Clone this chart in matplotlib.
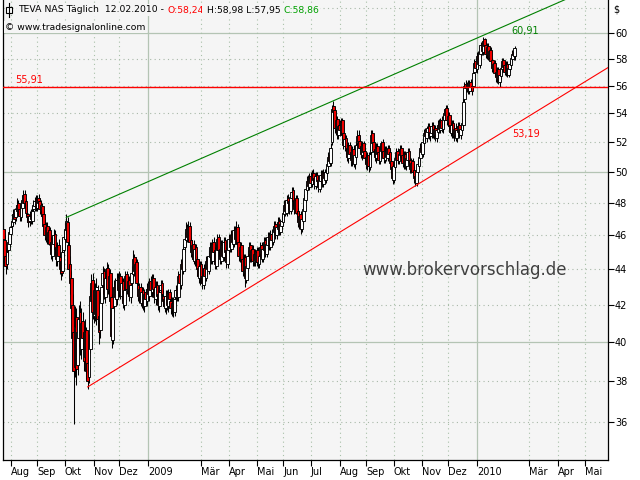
import numpy as np
import pandas as pd
import matplotlib
matplotlib.use("Agg")
import matplotlib.pyplot as plt
from matplotlib.patches import Rectangle
from matplotlib.lines import Line2D
from matplotlib.ticker import FixedLocator, NullLocator, FuncFormatter

# TEVA NAS, daily candles, 24.07.2008 - 12.02.2010 (one value per weekday)
FIRST_DAY = "2008-07-24"

opens = [
    46.4, 45.7, 44.8, 44.3, 45.1, 45.5,
    46.1, 46.6, 46.8, 47.4, 47.1, 47.5, 48.0, 47.6, 47.1, 47.7, 48.0, 48.6, 48.1, 47.3, 47.2, 46.9, 47.4, 46.9, 47.6, 47.8, 48.2,
    47.7, 48.3, 48.1, 47.5, 47.8, 47.3, 46.7, 45.9, 46.6, 45.7, 46.3, 45.6, 44.8, 45.5, 46.1, 45.3, 44.5, 45.4, 44.7, 44.5, 43.9, 45.1,
    45.8, 46.3, 46.8, 45.4, 44.3, 43.5, 42.0, 40.5, 38.7, 41.3, 38.8, 40.2, 41.6, 39.6, 41.1, 40.5, 39.2, 40.6, 38.9, 38.2, 39.6, 42.2, 43.4,
    41.4, 42.9, 41.3, 42.8, 41.4, 40.6, 42.1, 43.1, 43.9, 42.4, 43.6, 44.1, 42.8, 43.8, 42.4, 40.1, 41.9, 43.1, 42.3, 43.5,
    42.7, 43.6, 42.5, 43.3, 42.0, 42.9, 43.7, 42.8, 43.4, 42.4, 43.2, 43.7, 44.7, 43.8, 44.4, 43.1, 42.4, 43.0, 42.1, 42.8, 41.9, 42.7, 42.2,
    43.0, 42.5, 43.3, 42.7, 43.5, 42.8, 42.3, 43.1, 42.6, 41.9, 42.8, 43.2, 42.5, 42.3, 41.8, 42.6, 41.9, 42.7, 42.2, 41.7, 42.2,
    41.6, 42.4, 42.9, 42.4, 43.7, 43.1, 44.4, 43.9, 45.3, 45.7, 46.5, 45.8, 46.6, 45.7, 44.9, 45.5, 44.5, 45.3, 44.6, 44.1,
    43.5, 44.3, 43.6, 43.1, 44.1, 43.5, 44.6, 43.9, 44.7, 45.4, 44.5, 45.6, 45.1, 44.2, 45.1, 45.9, 45.2, 44.5, 45.5, 44.7, 45.7, 45.1,
    44.3, 45.1, 45.9, 45.2, 46.1, 45.5, 46.4, 45.7, 46.5, 45.6, 44.7, 45.4, 44.6, 43.8, 44.7, 43.4, 44.1, 44.9, 45.4, 44.6, 45.2, 44.4,
    45.0, 44.4, 45.1, 44.3, 44.9, 45.4, 44.6, 45.1, 45.7, 44.9, 45.4, 46.0, 45.3, 46.1, 45.6, 46.2, 46.7, 46.0, 46.4, 46.9, 46.2,
    46.6, 46.8, 47.3, 48.0, 47.4, 48.3, 48.1, 47.5, 48.3, 48.8, 48.2, 47.5, 48.3, 47.5, 46.7, 47.3, 46.4, 46.9, 47.5, 48.2, 48.8, 49.5,
    49.0, 49.7, 49.2, 49.9, 49.6, 49.1, 49.8, 49.5, 48.9, 49.4, 49.9, 49.2, 50.0, 49.5, 49.9, 50.4, 51.1, 50.6, 52.0, 54.5, 54.2, 52.9, 53.6, 52.5,
    53.2, 52.7, 53.5, 52.6, 51.7, 52.3, 51.6, 50.9, 51.8, 51.3,
    50.7, 51.5, 50.5, 51.0, 51.9, 52.5, 52.1, 51.7, 51.1, 51.9,
    51.4, 51.0, 50.4, 51.1, 50.3, 51.3, 52.6, 52.0, 51.5, 50.9,
    51.7, 51.3, 50.7, 51.4, 52.0, 51.4, 50.8, 51.5, 50.9, 51.6,
    51.3, 50.7, 50.3, 49.5, 50.3, 50.8, 51.4, 50.7, 51.1, 51.6,
    51.1, 50.5, 51.2, 50.4, 50.8, 51.4, 50.8, 50.1, 50.7, 50.1,
    49.7, 49.3, 50.0, 50.4, 50.9, 51.7, 51.2, 51.9, 52.7, 52.3,
    52.7, 53.1, 52.4, 52.6, 53.2, 52.5, 53.0, 52.3, 52.7, 53.3,
    52.8, 53.5, 52.9, 53.5, 53.9, 54.4, 53.4, 53.9, 53.2, 52.6,
    53.3, 52.5, 53.0, 52.3, 52.7, 53.2, 52.5, 52.8, 53.2, 55.0,
    56.1, 55.7, 56.2, 55.6, 56.3, 56.0, 56.0, 57.0, 57.8,
    57.2, 58.3, 57.5, 58.4, 59.2, 58.5, 59.5, 59.1, 58.3, 59.0,
    58.1, 58.7, 57.9, 57.2, 57.7, 57.0, 56.5, 57.2, 56.3, 56.7,
    57.2, 57.9, 57.5, 56.9, 57.6, 56.8, 57.2, 57.5, 58.0, 58.5, 58.24,
]

highs = [
    46.8, 46.0, 45.2, 45.3, 45.9, 46.6,
    46.9, 47.3, 47.6, 47.7, 47.9, 48.3, 48.2, 47.8, 48.1, 48.5, 48.8, 48.8, 48.3, 47.6, 47.4, 47.5, 47.6, 47.8, 48.2, 48.4, 48.5,
    48.5, 48.6, 48.3, 48.2, 48.0, 47.5, 47.0, 46.8, 46.8, 46.5, 46.5, 45.9, 45.9, 46.4, 46.3, 45.5, 45.6, 45.8, 45.0, 44.8, 45.3, 46.3,
    46.8, 47.3, 47.1, 45.8, 44.8, 43.9, 42.6, 41.3, 41.9, 41.8, 41.2, 42.0, 42.2, 41.8, 41.6, 40.9, 41.2, 40.8, 39.4, 40.4, 43.0, 43.7, 43.8,
    43.4, 43.2, 43.5, 43.1, 41.9, 42.7, 43.5, 44.2, 44.1, 43.9, 44.4, 44.3, 43.9, 44.0, 42.6, 42.2, 43.4, 43.5, 43.8, 43.8,
    43.9, 43.8, 43.5, 43.5, 43.1, 43.9, 43.9, 43.6, 43.6, 43.4, 44.2, 45.1, 44.9, 44.7, 44.6, 43.4, 43.2, 43.2, 43.0, 43.0, 42.9, 42.9, 43.2,
    43.3, 43.5, 43.6, 43.7, 43.7, 43.0, 43.3, 43.3, 42.8, 43.0, 43.4, 43.4, 42.8, 42.5, 42.8, 42.8, 42.9, 42.9, 42.5, 42.4, 42.4,
    42.6, 43.1, 43.2, 43.9, 44.0, 44.6, 44.7, 45.5, 46.2, 46.8, 46.7, 46.9, 46.8, 45.9, 45.7, 45.7, 45.5, 45.5, 44.8, 44.3,
    44.5, 44.5, 43.8, 44.3, 44.4, 44.8, 44.8, 45.1, 45.6, 45.6, 45.8, 45.9, 45.3, 45.5, 46.1, 46.1, 45.4, 45.7, 45.7, 45.9, 45.9, 45.3,
    45.5, 46.1, 46.1, 46.3, 46.3, 46.6, 46.6, 46.9, 46.7, 45.8, 45.6, 45.6, 44.8, 44.9, 44.9, 44.5, 45.1, 45.6, 45.6, 45.4, 45.4, 45.2,
    45.2, 45.3, 45.3, 45.1, 45.6, 45.6, 45.5, 45.9, 45.9, 45.8, 46.2, 46.2, 46.3, 46.4, 46.6, 46.9, 46.9, 46.8, 47.1, 47.1, 47.0,
    47.2, 47.7, 48.2, 48.2, 48.5, 48.6, 48.3, 48.7, 49.0, 49.0, 48.4, 48.5, 48.5, 47.7, 47.5, 47.5, 47.3, 47.9, 48.6, 49.2, 49.7, 49.8,
    49.9, 50.0, 50.1, 50.2, 49.8, 50.0, 50.0, 49.7, 49.8, 50.1, 50.1, 50.2, 50.2, 50.3, 50.8, 51.3, 51.3, 51.9, 54.6, 54.9, 54.4, 53.8, 53.8, 53.5,
    53.5, 53.7, 53.7, 52.9, 52.5, 52.5, 51.8, 52.0, 52.0, 51.5,
    51.7, 51.8, 51.4, 52.1, 52.8, 52.8, 52.3, 51.9, 52.1, 52.1,
    51.6, 51.2, 51.3, 51.3, 51.5, 52.8, 52.8, 52.2, 51.7, 51.9,
    51.9, 51.5, 51.8, 52.1, 52.2, 51.6, 51.7, 51.7, 51.8, 51.8,
    51.5, 50.9, 50.5, 50.7, 51.2, 51.6, 51.6, 51.5, 51.8, 51.8,
    51.3, 51.4, 51.4, 51.2, 51.6, 51.6, 51.0, 50.9, 50.9, 50.4,
    50.0, 50.4, 50.8, 51.3, 51.9, 51.9, 52.3, 52.9, 53.0, 53.1,
    53.3, 53.3, 53.0, 53.4, 53.4, 53.2, 53.2, 53.1, 53.5, 53.6,
    53.7, 53.8, 53.9, 54.3, 54.6, 54.6, 54.1, 54.1, 53.4, 53.5,
    53.5, 53.2, 53.3, 53.1, 53.4, 53.4, 53.1, 53.6, 55.1, 56.3,
    56.4, 56.3, 56.4, 56.4, 56.5, 56.2, 57.2, 58.0, 58.1,
    58.5, 58.6, 58.8, 59.3, 59.4, 59.7, 59.6, 59.3, 59.2, 59.2,
    58.9, 58.9, 58.1, 57.9, 57.9, 57.2, 57.4, 57.4, 57.0, 57.5,
    58.1, 58.1, 57.7, 57.8, 57.8, 57.6, 57.9, 58.3, 58.7, 58.8, 58.98,
]

lows = [
    45.2, 44.3, 43.7, 44.0, 44.8, 45.3,
    45.8, 46.3, 46.6, 46.7, 46.9, 47.3, 47.2, 46.9, 46.9, 47.5, 47.8, 47.7, 47.2, 46.8, 46.5, 46.6, 46.7, 46.7, 47.3, 47.5, 47.5,
    47.5, 47.7, 47.3, 47.2, 46.9, 46.3, 45.7, 45.6, 45.5, 45.4, 45.1, 44.6, 44.5, 45.2, 44.9, 44.2, 44.2, 44.5, 43.7, 43.4, 43.6, 44.8,
    45.4, 46.0, 45.2, 43.5, 42.6, 41.2, 39.4, 35.9, 38.2, 37.8, 38.3, 39.6, 39.3, 39.1, 39.6, 38.5, 38.9, 38.1, 37.6, 37.9, 39.4, 41.7, 41.2,
    41.0, 41.1, 40.9, 40.7, 39.9, 40.2, 41.8, 42.7, 42.3, 42.1, 43.2, 42.6, 42.5, 41.8, 39.7, 39.9, 41.6, 42.0, 42.0, 42.5,
    42.4, 42.3, 42.2, 41.8, 41.7, 42.6, 42.6, 42.5, 42.2, 42.1, 42.9, 43.5, 43.6, 43.5, 42.9, 42.2, 42.1, 41.9, 41.8, 41.7, 41.6, 42.0, 41.9,
    42.3, 42.2, 42.5, 42.4, 42.6, 42.1, 42.0, 42.2, 41.7, 41.6, 42.5, 42.3, 41.9, 41.6, 41.5, 41.7, 41.6, 42.0, 41.5, 41.4, 41.3,
    41.4, 42.1, 42.2, 42.2, 42.9, 42.9, 43.7, 43.7, 45.0, 45.4, 45.6, 45.6, 45.3, 44.7, 44.6, 44.3, 44.2, 44.2, 43.6, 43.2,
    43.1, 43.2, 42.9, 42.9, 43.3, 43.3, 43.7, 43.7, 44.5, 44.3, 44.3, 44.7, 44.0, 44.0, 44.9, 44.8, 44.3, 44.3, 44.5, 44.5, 44.7, 44.1,
    44.1, 44.9, 45.0, 45.0, 45.3, 45.3, 45.5, 45.5, 45.2, 44.5, 44.4, 44.2, 43.6, 43.6, 43.0, 43.2, 43.9, 44.6, 44.4, 44.4, 44.2, 44.2,
    44.2, 44.2, 44.1, 44.1, 44.6, 44.4, 44.4, 44.9, 44.7, 44.7, 45.2, 45.1, 45.1, 45.4, 45.4, 46.0, 45.8, 45.8, 46.2, 46.0, 46.0,
    46.4, 46.6, 47.1, 47.2, 47.2, 47.7, 47.3, 47.3, 48.1, 47.8, 47.3, 47.3, 47.1, 46.5, 46.4, 46.1, 46.2, 46.7, 47.3, 48.0, 48.6, 48.8,
    48.8, 49.0, 49.0, 49.2, 48.9, 48.9, 49.1, 48.7, 48.7, 49.2, 49.0, 49.0, 49.3, 49.3, 49.7, 50.2, 50.4, 50.4, 51.8, 53.6, 52.6, 52.5, 52.2, 52.2,
    52.4, 52.5, 52.2, 51.5, 51.4, 51.2, 50.7, 50.6, 50.9, 50.4,
    50.4, 50.3, 50.2, 50.8, 51.7, 51.7, 51.3, 50.9, 50.8, 51.0,
    50.6, 50.2, 50.1, 50.0, 50.1, 51.1, 51.6, 51.1, 50.7, 50.6,
    50.9, 50.5, 50.5, 51.2, 51.0, 50.6, 50.6, 50.7, 50.7, 50.9,
    50.3, 49.9, 49.2, 49.3, 50.1, 50.6, 50.5, 50.5, 50.9, 50.7,
    50.3, 50.2, 50.2, 50.1, 50.6, 50.4, 49.9, 49.9, 49.7, 49.3,
    49.1, 49.1, 49.8, 50.2, 50.7, 51.0, 51.0, 51.7, 52.1, 52.0,
    52.4, 52.2, 52.1, 52.3, 52.3, 52.2, 52.1, 52.0, 52.4, 52.6,
    52.6, 52.7, 52.6, 53.2, 53.7, 53.2, 53.1, 52.8, 52.4, 52.3,
    52.3, 52.1, 52.1, 52.0, 52.4, 52.3, 52.2, 52.6, 53.0, 54.8,
    55.5, 55.5, 55.4, 55.4, 55.7, 55.3, 55.8, 56.8, 57.0,
    56.9, 57.3, 57.3, 58.2, 58.3, 58.3, 58.8, 58.1, 58.0, 57.9,
    57.9, 57.6, 57.0, 57.0, 56.7, 56.3, 56.2, 56.1, 55.9, 56.5,
    57.0, 57.2, 56.8, 56.7, 56.6, 56.6, 57.0, 57.3, 57.8, 57.9, 57.95,
]

closes = [
    45.8, 44.6, 44.2, 45.0, 45.6, 46.2,
    46.5, 46.9, 47.3, 47.0, 47.6, 47.9, 47.5, 47.2, 47.8, 48.2, 48.5, 48.0, 47.4, 47.1, 46.8, 47.2, 47.0, 47.5, 47.9, 48.1, 47.8,
    48.2, 48.0, 47.6, 47.9, 47.2, 46.6, 46.0, 46.5, 45.8, 46.2, 45.5, 44.9, 45.6, 46.0, 45.2, 44.6, 45.3, 44.8, 44.0, 43.8, 45.0, 45.9,
    46.4, 46.9, 45.6, 44.0, 43.2, 41.8, 40.2, 38.5, 40.8, 38.6, 40.5, 41.2, 39.8, 41.0, 40.2, 39.0, 40.5, 38.5, 38.0, 39.8, 42.5, 43.2, 41.6,
    42.8, 41.5, 43.0, 41.2, 40.5, 42.3, 43.0, 43.8, 42.6, 43.5, 44.0, 42.9, 43.6, 42.2, 40.3, 41.8, 43.0, 42.4, 43.4, 42.8,
    43.5, 42.6, 43.2, 42.1, 42.8, 43.6, 42.9, 43.3, 42.5, 43.1, 43.8, 44.6, 43.9, 44.3, 43.2, 42.5, 42.9, 42.2, 42.7, 42.0, 42.6, 42.3, 42.9,
    42.6, 43.2, 42.8, 43.4, 42.9, 42.4, 43.0, 42.5, 42.0, 42.7, 43.1, 42.6, 42.2, 41.9, 42.5, 42.0, 42.6, 42.3, 41.8, 42.1, 41.7,
    42.3, 42.8, 42.5, 43.6, 43.2, 44.3, 44.0, 45.2, 45.8, 46.4, 45.9, 46.5, 45.6, 45.0, 45.4, 44.6, 45.2, 44.5, 44.0, 43.6,
    44.2, 43.5, 43.2, 44.0, 43.6, 44.5, 44.0, 44.8, 45.3, 44.6, 45.5, 45.0, 44.3, 45.2, 45.8, 45.1, 44.6, 45.4, 44.8, 45.6, 45.0, 44.4,
    45.2, 45.8, 45.3, 46.0, 45.6, 46.3, 45.8, 46.4, 45.5, 44.8, 45.3, 44.5, 43.9, 44.6, 43.5, 44.2, 44.8, 45.3, 44.7, 45.1, 44.5, 44.9,
    44.5, 45.0, 44.4, 44.8, 45.3, 44.7, 45.2, 45.6, 45.0, 45.5, 45.9, 45.4, 46.0, 45.7, 46.3, 46.6, 46.1, 46.5, 46.8, 46.3, 46.7,
    46.9, 47.4, 47.9, 47.5, 48.2, 48.0, 47.6, 48.4, 48.7, 48.1, 47.6, 48.2, 47.4, 46.8, 47.2, 46.5, 47.0, 47.6, 48.3, 48.9, 49.4, 49.1,
    49.6, 49.3, 49.8, 49.5, 49.2, 49.7, 49.4, 49.0, 49.5, 49.8, 49.3, 49.9, 49.6, 50.0, 50.5, 51.0, 50.7, 51.6, 54.3, 54.1, 53.0, 53.5, 52.6, 53.1,
    52.8, 53.4, 52.5, 51.8, 52.2, 51.5, 51.0, 51.7, 51.2, 50.8,
    51.4, 50.6, 51.1, 51.8, 52.4, 52.0, 51.6, 51.2, 51.8, 51.3,
    50.9, 50.5, 51.0, 50.4, 51.2, 52.5, 51.9, 51.4, 51.0, 51.6,
    51.2, 50.8, 51.5, 51.9, 51.3, 50.9, 51.4, 51.0, 51.5, 51.2,
    50.6, 50.2, 49.6, 50.4, 50.9, 51.3, 50.8, 51.2, 51.5, 51.0,
    50.6, 51.1, 50.5, 50.9, 51.3, 50.7, 50.2, 50.6, 50.0, 49.6,
    49.4, 50.1, 50.5, 51.0, 51.6, 51.3, 52.0, 52.6, 52.4, 52.8,
    53.0, 52.5, 52.7, 53.1, 52.6, 52.9, 52.4, 52.8, 53.2, 52.9,
    53.4, 53.0, 53.6, 54.0, 54.3, 53.5, 53.8, 53.1, 52.7, 53.2,
    52.6, 52.9, 52.4, 52.8, 53.1, 52.6, 52.9, 53.3, 54.8, 56.0,
    55.8, 56.1, 55.7, 56.2, 55.9, 55.6, 56.9, 57.7, 57.3,
    58.2, 57.6, 58.5, 59.1, 58.6, 59.4, 59.0, 58.4, 58.9, 58.2,
    58.6, 57.8, 57.3, 57.6, 56.9, 56.6, 57.1, 56.4, 56.8, 57.3,
    57.8, 57.4, 57.0, 57.5, 56.9, 57.3, 57.6, 58.1, 58.4, 58.3, 58.86,
]

# trend lines: (start day, start value, end day, end value)
GREEN_TREND = ("2008-10-02", 47.10, "2010-02-12", 60.91)
RED_TREND = ("2008-10-27", 37.70, "2010-02-12", 53.19)
RESISTANCE = 55.91

MONTHS_DE = ["Jan", "Feb", "Mär", "Apr", "Mai", "Jun", "Jul", "Aug", "Sep", "Okt", "Nov", "Dez"]
Y_TICKS = [36, 38, 40, 42, 44, 46, 48, 50, 52, 54, 56, 58, 60]

W, H = 640, 480
BG = "#f5f5f5"
GRID = "#b4c4b4"
UP = "#ffffff"
DOWN = "#ee0000"
GREEN = "#008000"
RED = "#ff0000"
FONT = "DejaVu Sans"

plt.rcParams["font.family"] = FONT

fig = plt.figure(figsize=(W / 100, H / 100), dpi=100, facecolor="white")
# plot area in pixels: x 3..608, y 0..460
ax = fig.add_axes([3 / W, 20 / H, 605 / W, 460 / H])
ax.set_facecolor(BG)

calendar = pd.bdate_range(FIRST_DAY, "2010-06-30")
n = len(closes)
xs = np.arange(n)


def day_index(day):
    return int(calendar.get_indexer([pd.Timestamp(day)])[0])


# x scale: 1.26 px per trading day
x_left = -0.2
x_right = x_left + 605 / 1.26
ax.set_xlim(x_left, x_right)
ax.set_yscale("log")
ax.set_ylim(34.25, 62.66)

# grid
for lvl in range(36, 63, 2):
    if lvl % 10 == 0:
        ax.axhline(lvl, color=GRID, lw=0.9, zorder=0)
    else:
        ax.axhline(lvl, color="#a8b8a8", lw=0.8, ls=(0, (1, 3)), zorder=0)

tick_pos, tick_lab, year_pos = [], [], []
for y, m in [(2008, mm) for mm in range(8, 13)] + [(2009, mm) for mm in range(1, 13)] + [(2010, mm) for mm in range(1, 6)]:
    if m == 2:
        continue
    mask = (calendar.year == y) & (calendar.month == m)
    idx = int(np.argmax(mask))
    tick_pos.append(idx)
    if m == 1:
        tick_lab.append(str(y))
        year_pos.append(idx)
    else:
        tick_lab.append(MONTHS_DE[m - 1])

for p in tick_pos:
    if p in year_pos:
        ax.axvline(p, color=GRID, lw=0.9, zorder=0)
    else:
        ax.axvline(p, color="#a8c0a8", lw=0.8, ls=(0, (1, 3)), zorder=0)

# candles
o = np.array(opens)
h = np.array(highs)
l = np.array(lows)
c = np.array(closes)
ax.vlines(xs, l, h, color="black", lw=0.75, zorder=2)
body_lo = np.minimum(o, c)
body_hi = np.maximum(o, c)
colors = [UP if cc >= oo else DOWN for oo, cc in zip(o, c)]
ax.bar(xs, body_hi - body_lo, bottom=body_lo, width=2.2, color=colors,
       edgecolor="black", linewidth=0.65, zorder=3)


# trend lines, straight on the log scale
def draw_trend(trend, color):
    d0, v0, d1, v1 = trend
    i0, i1 = day_index(d0), day_index(d1)
    xx = np.array([i0, x_right])
    slope = (np.log(v1) - np.log(v0)) / (i1 - i0)
    yy = np.exp(np.log(v0) + slope * (xx - i0))
    ax.plot(xx, yy, color=color, lw=0.8, zorder=4, clip_on=True)
    return i1, v1


gi, gv = draw_trend(GREEN_TREND, GREEN)
ri, rv = draw_trend(RED_TREND, RED)
ax.axhline(RESISTANCE, color=RED, lw=1.0, zorder=4)


def de(v):
    return f"{v:.2f}".replace(".", ",")


ax.annotate(de(gv), xy=(gi, gv), xytext=(-3, -9), textcoords="offset pixels",
            color=GREEN, fontsize=7, ha="left", va="center")
ax.annotate(de(rv), xy=(ri, rv), xytext=(-3, -9), textcoords="offset pixels",
            color=RED, fontsize=7, ha="left", va="center")
ax.annotate(de(RESISTANCE), xy=(x_left, RESISTANCE), xytext=(12, 7), textcoords="offset pixels",
            color=RED, fontsize=7, ha="left", va="center")

# axes
ax.spines["top"].set_visible(False)
for side in ["left", "right", "bottom"]:
    ax.spines[side].set_color("black")
    ax.spines[side].set_linewidth(0.9)

ax.yaxis.tick_right()
ax.yaxis.set_major_locator(FixedLocator(Y_TICKS))
ax.yaxis.set_minor_locator(NullLocator())
ax.yaxis.set_major_formatter(FuncFormatter(lambda v, p: f"{v:.0f}"))
ax.tick_params(axis="y", direction="out", length=4, width=0.8, pad=1, labelsize=7, colors="black")
ax.set_xticks(tick_pos, labels=tick_lab, ha="left", fontsize=7)
ax.tick_params(axis="x", direction="out", length=4, width=0.8, pad=1)
ax.xaxis.set_minor_locator(NullLocator())


def px_text(x, y, s, **kw):
    return fig.text(x / W, 1 - y / H, s, **kw)


# header
renderer = fig.canvas.get_renderer()
icon_x = 9
fig.add_artist(Line2D([icon_x / W, icon_x / W], [1 - 3 / H, 1 - 17 / H], color="black", lw=0.8))
fig.add_artist(Rectangle(((icon_x - 3) / W, 1 - 13 / H), 6 / W, 6 / H, facecolor="white",
                         edgecolor="black", lw=0.8))
title_parts = [
    ("TEVA NAS Täglich  12.02.2010 - ", "black"),
    ("O:58,24", "#ff0000"),
    (" H:58,98 L:57,95 ", "black"),
    ("C:58,86", "#00a000"),
]
x = 18
for s, col in title_parts:
    t = px_text(x, 10, s, color=col, fontsize=6.7, va="center", ha="left",
                bbox=dict(facecolor=BG, edgecolor="none", pad=1))
    x += t.get_window_extent(renderer).width
px_text(5, 27, "© www.tradesignalonline.com", color="black", fontsize=6.7, va="center", ha="left",
        bbox=dict(facecolor=BG, edgecolor="none", pad=1))
px_text(613, 10, "$", color="black", fontsize=7, va="center", ha="left")
px_text(465, 270, "www.brokervorschlag.de", color="#404040", fontsize=12, va="center", ha="center")

fig.savefig("out.png", dpi=100, facecolor="white")
